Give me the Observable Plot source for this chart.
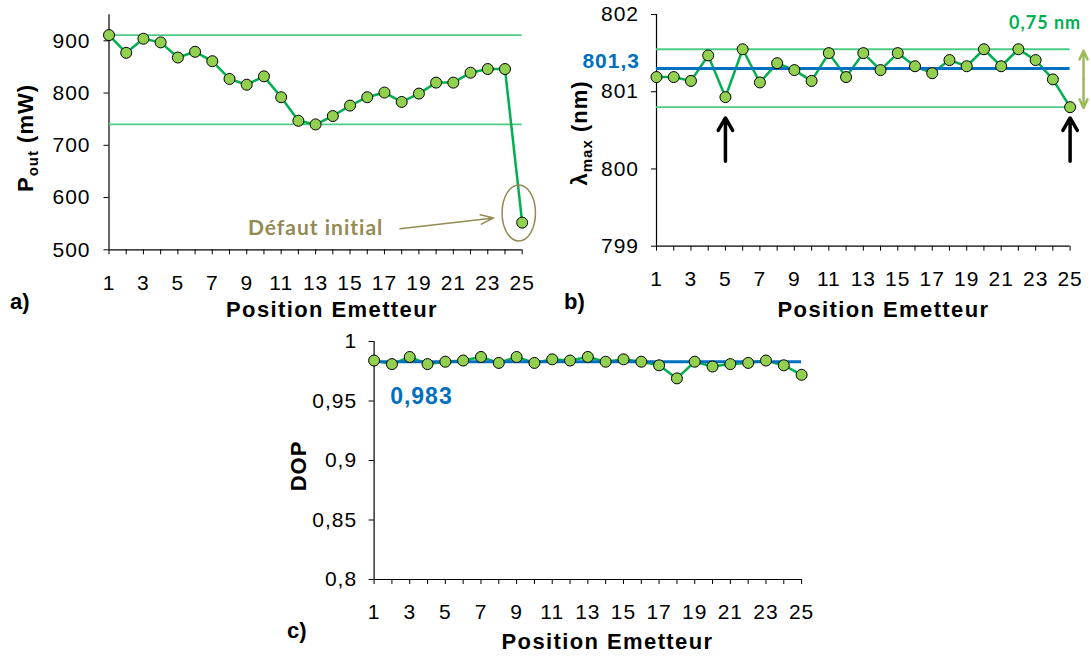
<!DOCTYPE html>
<html><head><meta charset="utf-8">
<script src="https://cdn.jsdelivr.net/npm/d3@7"></script>
<script src="https://cdn.jsdelivr.net/npm/@observablehq/plot@0.6"></script>
<style>
body{margin:0;background:#fff;}
#root{position:relative;width:1091px;height:657px;overflow:hidden;background:#fff;font-family:"Liberation Sans",Arial,sans-serif;}
#root svg{position:absolute;overflow:visible;}
</style></head><body><div id="root"></div>
<script>
// ---- data ----
const positions = [1,2,3,4,5,6,7,8,9,10,11,12,13,14,15,16,17,18,19,20,21,22,23,24,25];
const xTickLabels = [1,3,5,7,9,11,13,15,17,19,21,23,25];

const pout = [911,877,904,897,868,879,861,827,816,832,792,747,740,756,776,792,801,783,799,820,820,839,846,846,552];
const poutRefs = [911, 740];
const poutTicks = [500,600,700,800,900];

const lambda = [801.19,801.19,801.14,801.47,800.93,801.55,801.12,801.37,801.28,801.14,801.50,801.19,801.50,801.28,801.50,801.33,801.24,801.41,801.33,801.55,801.33,801.55,801.41,801.16,800.80];
const lambdaRefs = [801.55, 800.80];
const lambdaMean = [801.3];
const lambdaTicks = [799,800,801,802];
const lambdaArrowPositions = [5, 25];

const dop = [0.984,0.981,0.987,0.981,0.983,0.984,0.987,0.982,0.987,0.982,0.985,0.984,0.987,0.983,0.985,0.983,0.980,0.969,0.983,0.979,0.981,0.982,0.984,0.980,0.972];
const dopMean = [0.983];
const dopTicks = [0.8,0.85,0.9,0.95,1];

// annotation anchors (data coordinates)
const defautText = [{x: 13.0, y: 541, text: "Défaut initial"}];
const defautArrow = [{x1: 17.9, y1: 540.5, x2: 23.35, y2: 561}];
const defautEllipse = {x: 24.83, y: 569.5};
const meanLabelB = [{x: 0.04, y: 801.40, text: "801,3"}];
const spreadLabel = [{x: 23.55, y: 801.885, text: "0,75 nm"}];
const spreadArrow = {x: 25.78, y1: 801.53, y2: 800.79};
const meanLabelC = [{x: 1.9, y: 0.9535, text: "0,983"}];

const FONT = '"Liberation Sans", Arial, sans-serif';
const fmt = d => String(d).replace(".", ",");
const root = document.getElementById("root");

function makePanel(cfg) {
  const data = positions.map((p, i) => ({p, v: cfg.values[i]}));
  const chart = Plot.plot({
    width: cfg.width, height: cfg.height,
    marginLeft: cfg.ml, marginRight: cfg.mr, marginTop: cfg.mt, marginBottom: cfg.mb,
    style: {fontFamily: FONT, background: "transparent", overflow: "visible", letterSpacing: "1px", color: "#000"},
    x: {domain: [1, 25], axis: null},
    y: {domain: cfg.yDomain, axis: null},
    marks: [
      Plot.ruleX([1], {stroke: "#000", strokeWidth: 1.2}),
      Plot.ruleY([cfg.yDomain[0]], {stroke: "#000", strokeWidth: 1.2}),
      Plot.axisY({ticks: cfg.yTicks, tickSize: 5, tickPadding: cfg.ytp, tickFormat: fmt, fontSize: 21, label: null}),
      Plot.axisX({ticks: positions, tickSize: 5, tickPadding: 20, tickFormat: d => xTickLabels.includes(d) ? String(d) : "", fontSize: 21, label: null}),
      ...(cfg.before || []),
      Plot.line(data, {x: "p", y: "v", stroke: "#00B050", strokeWidth: 2.5}),
      ...(cfg.refs || []),
      Plot.dot(data, {x: "p", y: "v", r: 5.5, fill: "#92D050", stroke: "#000", strokeWidth: 1}),
      ...(cfg.after || [])
    ]
  });
  chart.style.left = cfg.left + "px";
  chart.style.top = cfg.top + "px";
  root.appendChild(chart);
  return chart;
}

// ---- panel a ----
const chartA = makePanel({
  values: pout, yDomain: [500, 950], yTicks: poutTicks, ytp: 13.5,
  left: 0, top: 0, width: 545, height: 330, ml: 108.5, mr: 23.3, mt: 14.2, mb: 80.7,
  before: [Plot.ruleY(poutRefs, {stroke: "#4CCB85", strokeWidth: 1.8})],
  after: [
    Plot.text(defautText, {x: "x", y: "y", text: "text", fill: "#948A54", fontSize: 21, fontWeight: "bold", fontFamily: "Lato", letterSpacing: "0px"}),
    Plot.arrow(defautArrow, {x1: "x1", y1: "y1", x2: "x2", y2: "y2", stroke: "#948A54", strokeWidth: 1.5, headLength: 14, headAngle: 40})
  ]
});
{
  const sx = chartA.scale("x"), sy = chartA.scale("y");
  d3.select(chartA).append("ellipse")
    .attr("cx", sx.apply(defautEllipse.x)).attr("cy", sy.apply(defautEllipse.y))
    .attr("rx", 16.7).attr("ry", 28)
    .attr("fill", "none").attr("stroke", "#948A54").attr("stroke-width", 1.5);
}

// ---- panel b ----
makePanel({
  values: lambda, yDomain: [799, 802], yTicks: lambdaTicks, ytp: 12.5,
  left: 540, top: 0, width: 551, height: 330, ml: 116, mr: 21.4, mt: 14, mb: 84.3,
  before: [Plot.ruleY(lambdaRefs, {stroke: "#4CCB85", strokeWidth: 1.8})],
  refs: [Plot.ruleY(lambdaMean, {stroke: "#0070C0", strokeWidth: 3})],
  after: [
    Plot.text(meanLabelB, {x: "x", y: "y", text: "text", fill: "#0070C0", fontSize: 21, fontWeight: "bold", textAnchor: "end"}),
    Plot.text(spreadLabel, {x: "x", y: "y", text: "text", fill: "#00B050", fontSize: 18, fontWeight: "bold", fontFamily: "Lato", letterSpacing: "0.5px"}),
    Plot.arrow([{x: spreadArrow.x, y1: (spreadArrow.y1 + spreadArrow.y2) / 2, y2: spreadArrow.y1}, {x: spreadArrow.x, y1: (spreadArrow.y1 + spreadArrow.y2) / 2, y2: spreadArrow.y2}],
      {x1: "x", x2: "x", y1: "y1", y2: "y2", stroke: "#9BBB59", strokeWidth: 2.5, headLength: 14, headAngle: 50}),
    Plot.arrow(lambdaArrowPositions, {x1: d => d, x2: d => d, y1: 800.1, y2: 800.66, stroke: "#000", strokeWidth: 3.5, headLength: 14, headAngle: 60})
  ]
});

// ---- panel c ----
makePanel({
  values: dop, yDomain: [0.8, 1], yTicks: dopTicks, ytp: 12,
  left: 270, top: 320, width: 560, height: 337, ml: 103.6, mr: 28.9, mt: 21, mb: 78,
  refs: [Plot.ruleY(dopMean, {stroke: "#0070C0", strokeWidth: 3})],
  after: [
    Plot.text(meanLabelC, {x: "x", y: "y", text: "text", fill: "#0070C0", fontSize: 23, fontWeight: "bold", textAnchor: "start"})
  ]
});

// ---- titles & panel letters ----
const ov = d3.select(root).insert("svg", ":first-child")
  .attr("width", 1091).attr("height", 657)
  .style("left", "0px").style("top", "0px")
  .attr("font-family", FONT).attr("font-weight", "bold").attr("fill", "#000");

const xTitles = [[332, 317], [883.5, 317], [607.5, 649]];
for (const [x, y] of xTitles) {
  ov.append("text").attr("x", x).attr("y", y).attr("text-anchor", "middle")
    .attr("font-size", 22).style("letter-spacing", "1.4px").text("Position Emetteur");
}
const letters = [["a)", 10, 309], ["b)", 564, 309], ["c)", 287, 638]];
for (const [t, x, y] of letters) {
  ov.append("text").attr("x", x).attr("y", y).attr("font-size", 22).text(t);
}
function yTitle(x, y, parts) {
  const t = ov.append("text").attr("transform", `translate(${x},${y}) rotate(-90)`)
    .attr("text-anchor", "middle").attr("dy", "0.35em").attr("font-size", 22).style("letter-spacing", "1px");
  let shift = 0;
  for (const [s, sub] of parts) {
    const sp = t.append("tspan").text(s);
    if (sub && !shift) { sp.attr("font-size", 15).attr("dy", 5); shift = 5; }
    else if (!sub && shift) { sp.attr("dy", -5); shift = 0; }
  }
}
yTitle(25, 138, [["P", false], ["out", true], [" (mW)", false]]);
yTitle(579, 133, [["λ", false], ["max", true], [" (nm)", false]]);
yTitle(298.6, 466, [["DOP", false]]);
</script></body></html>
